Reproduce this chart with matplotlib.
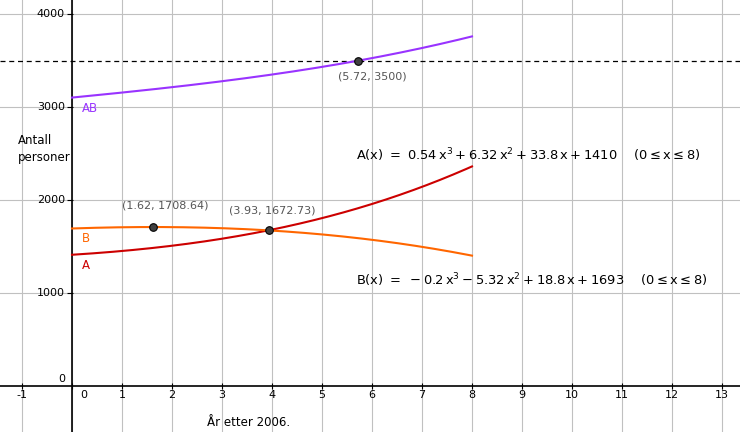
import numpy as np
import matplotlib
matplotlib.use("Agg")
import matplotlib.pyplot as plt

plt.rcParams['font.family'] = ['DejaVu Sans']
plt.rcParams['mathtext.fontset'] = 'dejavusans'

# polynomial coefficients as printed on the chart (highest power first)
coef_A = [0.54, 6.32, 33.8, 1410]
coef_B = [-0.2, -5.32, 18.8, 1693]
x_min, x_max = 0, 8
level = 3500

# marked points and their labels
points_x = [1.62, 3.93, 5.72]
points_y = [1708.64, 1672.73, 3500]
point_labels = ["(1.62, 1708.64)", "(3.93, 1672.73)", "(5.72, 3500)"]

x_ticks = list(range(-1, 14))
y_ticks = [0, 1000, 2000, 3000, 4000]

col_A = '#cc0000'
col_B = '#ff6600'
col_AB = '#9933ff'

fig = plt.figure(figsize=(7.4, 4.32), dpi=100)
ax = fig.add_axes([0, 0, 1, 1])
ax.set_xlim(-1.44, 13.36)
ax.set_ylim(-499, 4154)
for s in ax.spines.values():
    s.set_visible(False)

# grid
ax.set_xticks(x_ticks)
ax.set_yticks(y_ticks[1:])
ax.tick_params(length=0, labelbottom=False, labelleft=False)
ax.grid(True, color='#c0c0c0', lw=0.8)
ax.set_axisbelow(True)

# axes through origin
ax.axhline(0, color='black', lw=1.2, zorder=2)
ax.axvline(0, color='black', lw=1.2, zorder=2)
ax.plot(x_ticks, [0] * len(x_ticks), '|', color='black', ms=4, mew=0.8)
ax.plot([-0.04] * 4, y_ticks[1:], '_', color='black', ms=4, mew=0.8)

# tick labels
for t in x_ticks:
    if t == 0:
        ax.text(0.16, -50, "0", ha='left', va='top', fontsize=8)
    else:
        ax.text(t, -50, str(t), ha='center', va='top', fontsize=8)
for t in y_ticks:
    if t == 0:
        ax.text(-0.14, 72, "0", ha='right', va='center', fontsize=8)
    else:
        ax.text(-0.14, t, str(t), ha='right', va='center', fontsize=8)

# curves
xs = np.linspace(x_min, x_max, 400)
ya = np.polyval(coef_A, xs)
yb = np.polyval(coef_B, xs)
ax.plot(xs, ya, color=col_A, lw=1.5, zorder=3)
ax.plot(xs, yb, color=col_B, lw=1.5, zorder=3)
ax.plot(xs, ya + yb, color=col_AB, lw=1.5, zorder=3)
ax.axhline(level, color='black', lw=0.9, ls=(0, (4, 3)), zorder=2)

ax.text(0.2, 2990, "AB", color=col_AB, fontsize=8.5, va='center')
ax.text(0.2, 1580, "B", color=col_B, fontsize=8.5, va='center')
ax.text(0.2, 1289, "A", color=col_A, fontsize=8.5, va='center')

# points
ax.scatter(points_x, points_y, s=30, color='#404040', edgecolor='black', lw=0.8, zorder=5)
label_pos = [(1.86, 1944), (4.0, 1890), (6.0, 3335)]
for (lx, ly), lab in zip(label_pos, point_labels):
    ax.text(lx, ly, lab, ha='center', va='center', fontsize=8, color='#555555')

# formulas
fA = r'$\mathrm{A(x)\ =\ 0.54\,x^3+6.32\,x^2+33.8\,x+1410\quad\ (0\leq x\leq 8)}$'
fB = r'$\mathrm{B(x)\ =\ -0.2\,x^3-5.32\,x^2+18.8\,x+1693\quad\ (0\leq x\leq 8)}$'
fig.text(356 / 740, 1 - 155 / 432, fA, ha='left', va='center', fontsize=9.4)
fig.text(356 / 740, 1 - 280 / 432, fB, ha='left', va='center', fontsize=9.4)

fig.text(18 / 740, 1 - 140 / 432, "Antall", ha='left', va='center', fontsize=8.5)
fig.text(18 / 740, 1 - 157 / 432, "personer", ha='left', va='center', fontsize=8.5)
fig.text(207 / 740, 1 - 422 / 432, "År etter 2006.", ha='left', va='center', fontsize=8.5)

fig.savefig("out.png", dpi=100)
